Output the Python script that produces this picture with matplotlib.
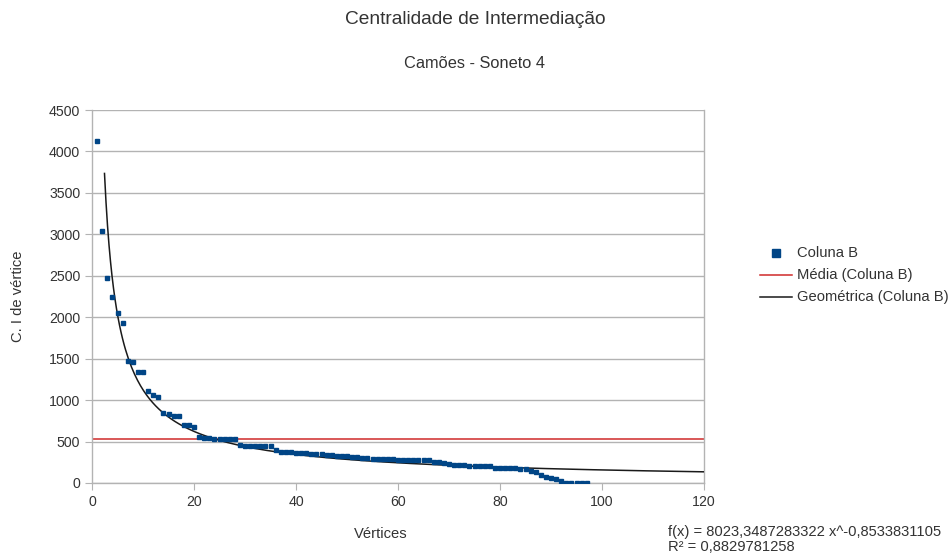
import numpy as np
import matplotlib.pyplot as plt

plt.rcParams['font.family'] = ['Liberation Sans', 'DejaVu Sans']

# Centralidade de intermediação por vértice
vertices = list(range(1, 98))
coluna_b = [4130, 3040, 2470, 2250, 2050, 1925, 1470, 1460, 1340, 1335,
            1110, 1065, 1040, 840, 835, 810, 810, 700, 695, 670,
            560, 540, 540, 535, 535, 535, 535, 535, 455, 450,
            450, 450, 450, 450, 450, 400, 380, 378, 375, 365,
            360, 358, 355, 350, 345, 340, 335, 330, 325, 320,
            318, 315, 300, 298, 295, 293, 290, 288, 285, 283,
            280, 278, 276, 275, 273, 272, 255, 250, 237, 225,
            220, 217, 215, 205, 205, 205, 204, 203, 180, 178,
            177, 176, 175, 174, 172, 140, 130, 95, 75, 55,
            45, 28, 2, 2, 2, 2, 2]

# tendencia geometrica  f(x) = a * x^b
coef_a = 8023.3487283322
coef_b = -0.8533831105
r2_txt = "0,8829781258"

grid_col = '#b3b3b3'
text_col = '#333333'
fs = 10.6

fig = plt.figure(figsize=(9.52, 5.55), dpi=100)
ax = fig.add_axes([92 / 952, 1 - 483 / 555, (704 - 92) / 952, (483 - 110) / 555])

media = np.mean(coluna_b)
xs = np.linspace(2.45, 120, 400)
ax.axhline(media, color='#cf2a2a', lw=1.1, zorder=2)
ax.plot(xs, coef_a * xs ** coef_b, color='#1a1a1a', lw=1.1, zorder=3)
ax.plot(vertices, coluna_b, ls='none', marker='s', ms=2.8, color='#004586', zorder=4)

ax.set_xlim(0, 120)
ax.set_ylim(0, 4500)
ax.set_xticks(range(0, 121, 20))
ax.set_yticks(range(0, 4501, 500))
ax.grid(axis='y', color=grid_col, lw=1)
ax.set_axisbelow(True)
ax.spines['top'].set_visible(False)
for s in ['left', 'right', 'bottom']:
    ax.spines[s].set_color(grid_col)
    ax.spines[s].set_linewidth(1)
ax.tick_params(colors=grid_col, labelcolor=text_col, labelsize=10.2, length=5)

ax.set_ylabel('C. I de vértice', fontsize=fs, color=text_col, labelpad=17)
fig.text(381 / 952, 1 - 534 / 555, 'Vértices', ha='center', va='center',
         fontsize=fs, color=text_col)

fig.text(475 / 952, 1 - 19 / 555, 'Centralidade de Intermediação', ha='center', va='center',
         fontsize=13.8, color=text_col)
fig.text(475 / 952, 1 - 64 / 555, 'Camões - Soneto 4', ha='center', va='center',
         fontsize=11.8, color=text_col)

# legenda
lx0, lx1, tx = 760 / 952, 792 / 952, 797 / 952
rows = [1 - 253 / 555, 1 - 275 / 555, 1 - 297 / 555]
fig.lines.append(plt.Line2D([776 / 952], [rows[0]], marker='s', ms=6, color='#004586',
                            ls='none', transform=fig.transFigure))
fig.lines.append(plt.Line2D([lx0, lx1], [rows[1]] * 2, color='#cf2a2a', lw=1.1,
                            transform=fig.transFigure))
fig.lines.append(plt.Line2D([lx0, lx1], [rows[2]] * 2, color='#1a1a1a', lw=1.1,
                            transform=fig.transFigure))
for y, t in zip(rows, ['Coluna B', 'Média (Coluna B)', 'Geométrica (Coluna B)']):
    fig.text(tx, y, t, ha='left', va='center', fontsize=fs, color=text_col)

fig.text(668 / 952, 1 - 532 / 555, 'f(x) = 8023,3487283322 x^-0,8533831105',
         ha='left', va='center', fontsize=fs, color=text_col)
fig.text(668 / 952, 1 - 547 / 555, 'R² = ' + r2_txt,
         ha='left', va='center', fontsize=fs, color=text_col)

fig.savefig('out.png', dpi=100)
